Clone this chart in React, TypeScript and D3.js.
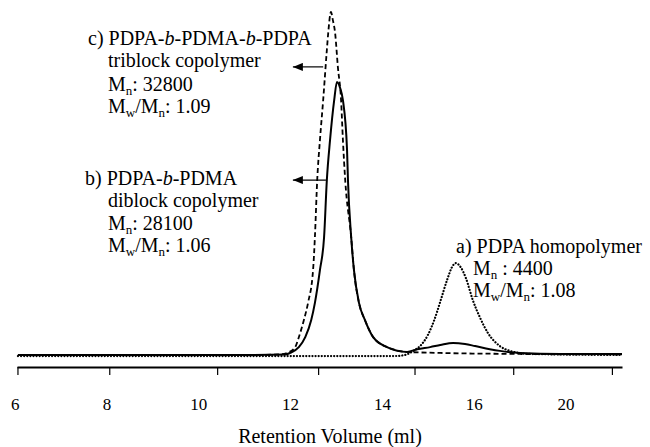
import { useEffect, useRef } from "react";
import * as d3 from "d3";

// retention volume (ml) vs normalised RI response
const homopolymerA: [number, number][] = [
  [6.06, -0.003], [14.28, -0.003], [14.49, 0], [14.71, 0.015], [14.82, 0.026],
  [14.99, 0.058], [15.13, 0.102], [15.26, 0.155], [15.41, 0.219], [15.52, 0.257],
  [15.6, 0.268], [15.69, 0.259], [15.82, 0.224], [15.97, 0.16], [16.13, 0.108],
  [16.3, 0.064], [16.56, 0.026], [16.78, 0.012], [17.22, 0.003], [19.22, 0],
];

const diblockB: [number, number][] = [
  [6.06, 0], [11.12, 0], [11.88, 0.0015], [11.99, 0.006], [12.18, 0.023],
  [12.32, 0.052], [12.45, 0.102], [12.53, 0.152], [12.64, 0.248], [12.73, 0.344],
  [12.79, 0.51], [12.86, 0.627], [12.95, 0.743], [13.01, 0.796], [13.08, 0.778],
  [13.14, 0.743], [13.23, 0.598], [13.25, 0.51], [13.32, 0.344], [13.38, 0.248],
  [13.49, 0.152], [13.62, 0.102], [13.8, 0.052], [14.1, 0.023], [14.54, 0.009],
  [14.76, 0.017], [15.04, 0.023], [15.26, 0.029], [15.54, 0.035], [15.8, 0.032],
  [16.02, 0.026], [16.34, 0.017], [16.56, 0.012], [17.0, 0.006], [17.87, 0.003],
  [19.22, 0.003],
];

const triblockC: [number, number][] = [
  [6.06, 0], [11.12, 0], [11.75, 0.0015], [11.92, 0.006], [12.1, 0.023],
  [12.18, 0.052], [12.29, 0.102], [12.38, 0.152], [12.49, 0.248], [12.53, 0.344],
  [12.58, 0.51], [12.64, 0.627], [12.71, 0.743], [12.79, 0.889], [12.82, 0.939],
  [12.88, 1.0], [12.92, 0.977], [12.97, 0.939], [13.03, 0.84], [13.1, 0.743],
  [13.14, 0.627], [13.19, 0.51], [13.32, 0.344], [13.38, 0.248], [13.49, 0.152],
  [13.62, 0.102], [13.8, 0.052], [14.1, 0.023], [14.54, 0.009], [15.26, 0.006],
  [17.0, 0.003], [19.22, 0.0015],
];

const tickMarks = [6.05, 8.05, 10.4, 12.6, 14.7, 16.85, 19];
const labelValues = [6, 8, 10, 12, 14, 16, 18];
const tickLabels = ["6", "8", "10", "12", "14", "16", "20"];

// arrow: [tip ml, tail ml, level]
const arrowC = [12.05, 12.71, 0.84];
const arrowB = [12.05, 12.77, 0.51];

const font = "Liberation Serif, DejaVu Serif";

function Sub({ t }: { t: string }) {
  return <tspan dy={4} fontSize={13}>{t}</tspan>;
}

function App() {
  const axisRef = useRef<SVGGElement>(null);

  const x = d3.scaleLinear().domain([6.04, 19.22]).range([17, 622]);
  const y = d3.scaleLinear().domain([0, 1]).range([355, 12]);
  const line = d3.line<[number, number]>()
    .x(d => x(d[0]))
    .y(d => y(d[1]))
    .curve(d3.curveMonotoneX);

  useEffect(() => {
    const g = d3.select(axisRef.current!);
    g.selectAll("*").remove();
    g.call(
      d3.axisBottom(x)
        .tickValues(tickMarks)
        .tickFormat(() => "")
        .tickSize(8)
        .tickSizeOuter(0)
    );
    g.select(".domain").attr("stroke-width", 2);
    g.selectAll(".tick line").attr("stroke-width", 1.2);
    // eslint-disable-next-line
  }, []);

  return (
    <svg width={650} height={447} style={{ position: "absolute", left: 0, top: 0, background: "#fff" }}>
      <defs>
        <marker id="arr" viewBox="0 0 10 8" refX={10} refY={4} markerWidth={11} markerHeight={8}
          markerUnits="userSpaceOnUse" orient="auto">
          <path d="M0,0 L10,4 L0,8 z" fill="#000" />
        </marker>
      </defs>

      <path d={line(homopolymerA)!} fill="none" stroke="#000" strokeWidth={2.2}
        strokeDasharray="0.1,3" strokeLinecap="round" />
      <path d={line(triblockC)!} fill="none" stroke="#000" strokeWidth={1.8} strokeDasharray="5,3" />
      <path d={line(diblockB)!} fill="none" stroke="#000" strokeWidth={2} />

      {[arrowC, arrowB].map((a, i) => (
        <line key={i} x1={x(a[1])} y1={y(a[2])} x2={x(a[0])} y2={y(a[2])}
          stroke="#000" strokeWidth={1.2} markerEnd="url(#arr)" />
      ))}

      <g ref={axisRef} transform="translate(0,367)" />
      <g fontFamily={font} fill="#000">
        {labelValues.map((v, i) => (
          <text key={v} x={x(v)} y={410} fontSize={17} textAnchor="middle">{tickLabels[i]}</text>
        ))}
        <text x={330} y={443} fontSize={20} textAnchor="middle">Retention Volume (ml)</text>
      </g>

      <g fontFamily={font} fontSize={20} fill="#000">
        <text x={88} y={45}>c) PDPA-<tspan fontStyle="italic">b</tspan>-PDMA-<tspan fontStyle="italic">b</tspan>-PDPA</text>
        <text x={108} y={67}>triblock copolymer</text>
        <text x={108} y={91}>M<Sub t="n" /><tspan dy={-4}>: 32800</tspan></text>
        <text x={108} y={113}>M<Sub t="w" /><tspan dy={-4}>/M</tspan><Sub t="n" /><tspan dy={-4}>: 1.09</tspan></text>

        <text x={85} y={185}>b) PDPA-<tspan fontStyle="italic">b</tspan>-PDMA</text>
        <text x={108} y={207}>diblock copolymer</text>
        <text x={108} y={230}>M<Sub t="n" /><tspan dy={-4}>: 28100</tspan></text>
        <text x={108} y={252}>M<Sub t="w" /><tspan dy={-4}>/M</tspan><Sub t="n" /><tspan dy={-4}>: 1.06</tspan></text>

        <text x={456} y={253}>a) PDPA homopolymer</text>
        <text x={473} y={275}>M<Sub t="n" /><tspan dy={-4}> : 4400</tspan></text>
        <text x={473} y={297}>M<Sub t="w" /><tspan dy={-4}>/M</tspan><Sub t="n" /><tspan dy={-4}>: 1.08</tspan></text>
      </g>
    </svg>
  );
}

export default App;
